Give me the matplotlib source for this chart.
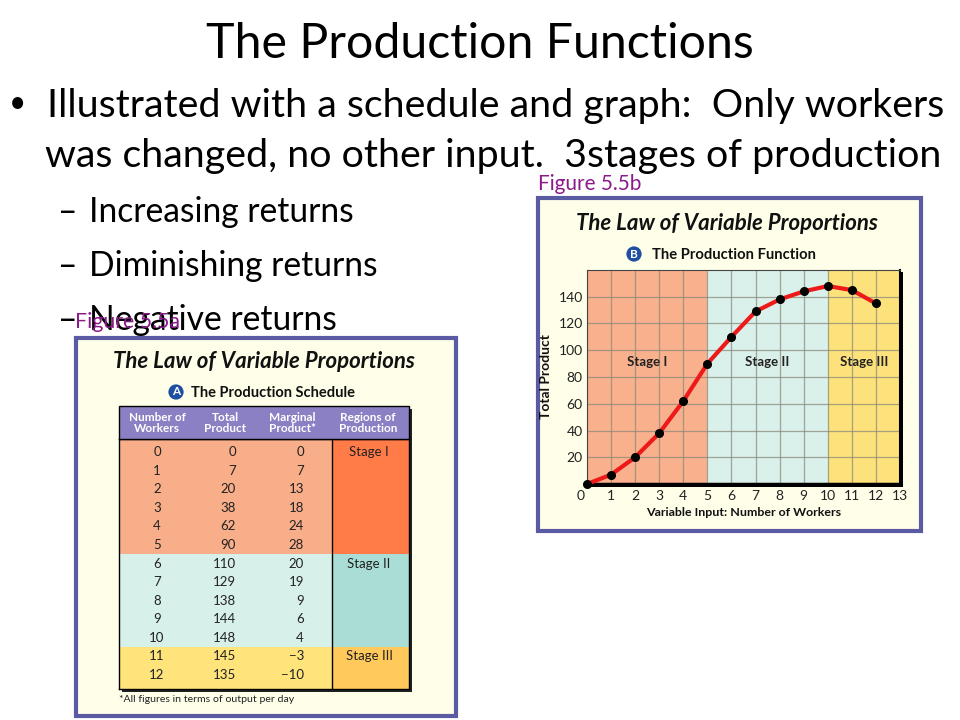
import matplotlib
matplotlib.use("Agg")
import matplotlib.pyplot as plt
from matplotlib.patches import Rectangle
from matplotlib.transforms import ScaledTranslation

# ---------------- data ----------------
workers = [0, 1, 2, 3, 4, 5, 6, 7, 8, 9, 10, 11, 12]
total_product = [0, 7, 20, 38, 62, 90, 110, 129, 138, 144, 148, 145, 135]
marginal_product = [0, 7, 13, 18, 24, 28, 20, 19, 9, 6, 4, -3, -10]
stage_of_row = ["Stage I"] * 6 + ["Stage II"] * 5 + ["Stage III"] * 2
stage_names = ["Stage I", "Stage II", "Stage III"]
stage_ranges = [(0, 5), (5, 10), (10, 13)]
x_ticks = list(range(0, 14))
y_ticks = [20, 40, 60, 80, 100, 120, 140]
header_labels = ["Number of\nWorkers", "Total\nProduct", "Marginal\nProduct*", "Regions of\nProduction"]

slide_title = "The Production Functions"
bullet_lines = ["Illustrated with a schedule and graph:  Only workers",
                "was changed, no other input.  3stages of production"]
sub_bullets = ["Increasing returns", "Diminishing returns", "Negative returns"]

# ---------------- styles ----------------
W, H = 960, 720
FONT = "Lato"
chart_stage_colors = ["#F9B08C", "#D9F0EB", "#FDE27C"]
row_colors = {"Stage I": "#F9AE8A", "Stage II": "#D8F0EA", "Stage III": "#FFE47C"}
region_colors = {"Stage I": "#FF7B47", "Stage II": "#A9DDD6", "Stage III": "#FFC95C"}
panel_bg = "#FFFEE9"
panel_edge = "#5B5BA3"
header_color = "#8B80C3"
purple = "#8B1A8B"

fig = plt.figure(figsize=(W / 100, H / 100), dpi=100)
fig.patch.set_facecolor("white")
renderer = fig.canvas.get_renderer()


def fx(x):
    return x / W


def fy(y):
    return 1 - y / H


def ftext(x, y, s, size=10, **kw):
    return fig.text(fx(x), fy(y), s, fontsize=size, family=FONT, **kw)


def fit_size(s, width, **kw):
    t = fig.text(0, 0, s, fontsize=20, family=FONT, **kw)
    bb = t.get_window_extent(renderer)
    t.remove()
    return 20 * width / bb.width


def frect(x0, y0, x1, y1, **kw):
    r = Rectangle((fx(x0), fy(y1)), fx(x1) - fx(x0), fy(y0) - fy(y1),
                  transform=fig.transFigure, **kw)
    fig.patches.append(r)
    return r


# ---------------- slide text ----------------
ts = fit_size(slide_title, 550)
ftext(480, 58, slide_title, ts, ha="center", va="baseline")

bs = fit_size(bullet_lines[0], 900)
ftext(17, 103, "•", bs * 0.75, ha="center", va="center")
ftext(47, 117, bullet_lines[0], bs, ha="left", va="baseline")
ftext(45, 167, bullet_lines[1], bs, ha="left", va="baseline")

ss = fit_size(sub_bullets[1], 291)
for i, s in enumerate(sub_bullets):
    yb = 222 + i * 54
    ftext(58, yb, "–", ss, ha="left", va="baseline")
    ftext(89, yb, s, ss, ha="left", va="baseline")

# ---------------- right panel: production function ----------------
frect(538, 198, 921, 531, facecolor=panel_bg, edgecolor=panel_edge, linewidth=3, zorder=0)
ftext(538, 190, "Figure 5.5b", fit_size("Figure 5.5b", 104), color=purple, ha="left", va="baseline")

pt = "The Law of Variable Proportions"
pts = fit_size(pt, 302, fontweight="bold", style="italic")
ftext(727, 230, pt, pts, ha="center", va="baseline", fontweight="bold", style="italic", color="#111111")
ftext(634, 254, "B", 8.5, ha="center", va="center", color="white", fontweight="bold",
      bbox=dict(boxstyle="circle,pad=0.18", fc="#1F4FA0", ec="none"))
sub = "The Production Function"
ftext(652, 259, sub, fit_size(sub, 164, fontweight="bold"), ha="left", va="baseline",
      fontweight="bold", color="#111111")

# shadow behind axes
frect(590, 272, 903, 487, facecolor="black", edgecolor="none", zorder=1)

ax = fig.add_axes([fx(587), fy(484), fx(900) - fx(587), fy(270) - fy(484)])
ax.set_zorder(2)
for (a, b), c in zip(stage_ranges, chart_stage_colors):
    ax.axvspan(a, b, color=c, zorder=0, lw=0)
ax.set_xlim(0, 13)
ax.set_ylim(0, 160)
ax.set_axisbelow(True)
ax.set_xticks(x_ticks)
ax.set_yticks(y_ticks)
ax.grid(True, color="#8A8A78", lw=0.9, alpha=0.75)
ax.tick_params(length=0, labelsize=10, pad=4)
for lab in ax.get_xticklabels() + ax.get_yticklabels():
    lab.set_family(FONT)
    lab.set_color("#222222")
ax.get_xticklabels()[0].set_transform(ax.get_xticklabels()[0].get_transform()
                                      + ScaledTranslation(-6 / 100, 0, fig.dpi_scale_trans))
ax.tick_params(axis="y", pad=3)
for side in ["top", "left"]:
    ax.spines[side].set_color("#444444")
    ax.spines[side].set_linewidth(0.8)
ax.spines["right"].set_color("black")
ax.spines["right"].set_linewidth(1.5)
ax.spines["bottom"].set_color("black")
ax.spines["bottom"].set_linewidth(2.5)

ax.plot(workers, total_product, color="#EE1A1A", lw=3, solid_joinstyle="round",
        solid_capstyle="round", zorder=3, clip_on=False)
ax.plot(workers, total_product, "o", color="black", ms=5.5, zorder=4, clip_on=False)

for name, (a, b) in zip(stage_names, stage_ranges):
    ax.text((a + b) / 2 if b < 13 else 11.5, 91, name, ha="center", va="center",
            fontsize=9.5, fontweight="bold", family=FONT, color="#222222")

xl = "Variable Input: Number of Workers"
ax.set_xlabel(xl, fontsize=fit_size(xl, 196, fontweight="bold"), fontweight="bold",
              family=FONT, labelpad=4, color="#111111")
ax.set_ylabel("Total Product", fontsize=10, fontweight="bold", family=FONT, labelpad=5,
              color="#111111")

# ---------------- left panel: production schedule ----------------
frect(76, 338, 456, 716, facecolor=panel_bg, edgecolor=panel_edge, linewidth=3, zorder=0)
ftext(264, 368, pt, fit_size(pt, 301, fontweight="bold", style="italic"), ha="center",
      va="baseline", fontweight="bold", style="italic", color="#111111")
ftext(176, 392, "A", 8.5, ha="center", va="center", color="white", fontweight="bold",
      bbox=dict(boxstyle="circle,pad=0.18", fc="#1F4FA0", ec="none"))
sub2 = "The Production Schedule"
ftext(191, 397, sub2, fit_size(sub2, 164, fontweight="bold"), ha="left", va="baseline",
      fontweight="bold", color="#111111")

# table shadow + header
frect(122, 409, 412, 692, facecolor="#222222", edgecolor="none", zorder=1)
frect(119, 406, 409, 439, facecolor=header_color, edgecolor="black", linewidth=1, zorder=2)
col_center_px = [157, 225, 292, 368]
for cx, lab in zip(col_center_px, header_labels):
    ftext(cx, 423, lab, 8.5, ha="center", va="center", color="white", fontweight="bold",
          linespacing=1.05, zorder=3)

tax = fig.add_axes([fx(119), fy(689), fx(409) - fx(119), fy(439) - fy(689)])
tax.set_zorder(2)
n = len(workers)
tax.set_xlim(0, 290)
tax.set_ylim(n - 0.25, -0.7)
tax.set_xticks([])
tax.set_yticks([])
for s in tax.spines.values():
    s.set_color("black")
    s.set_linewidth(1)

# group rows by stage
groups = []
for i, st in enumerate(stage_of_row):
    if groups and groups[-1][0] == st:
        groups[-1][2] = i
    else:
        groups.append([st, i, i])
for gi, (st, i0, i1) in enumerate(groups):
    top = i0 - 0.5 if gi > 0 else -0.7
    bot = i1 + 0.5 if gi < len(groups) - 1 else n - 0.25
    tax.add_patch(Rectangle((0, top), 213, bot - top, facecolor=row_colors[st], lw=0))
    tax.add_patch(Rectangle((213, top), 77, bot - top, facecolor=region_colors[st], lw=0))
    tax.text(250, i0, st, ha="center", va="center", fontsize=9.5, family=FONT, color="#222222")
tax.axvline(213, color="black", lw=1)

for i in range(n):
    tax.text(38, i, str(workers[i]), ha="center", va="center", fontsize=9.5, family=FONT,
             color="#222222")
    tax.text(117, i, str(total_product[i]), ha="right", va="center", fontsize=9.5, family=FONT,
             color="#222222")
    mp = marginal_product[i]
    tax.text(185, i, ("−" + str(-mp)) if mp < 0 else str(mp), ha="right", va="center",
             fontsize=9.5, family=FONT, color="#222222")

fn = "*All figures in terms of output per day"
ftext(119, 700, fn, fit_size(fn, 174), ha="left", va="center", color="#222222")

ftext(75, 328, "Figure 5.5a", fit_size("Figure 5.5a", 105), color=purple, ha="left",
      va="baseline")

fig.savefig("out.png", dpi=100)
